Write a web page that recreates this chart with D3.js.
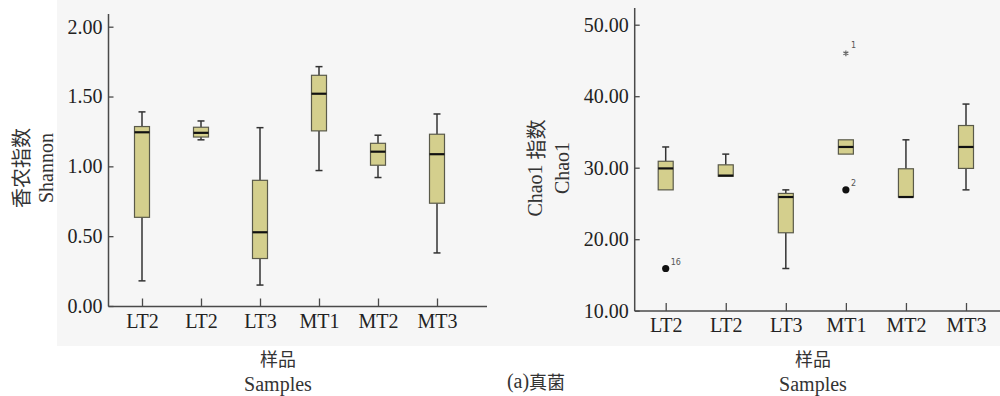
<!DOCTYPE html>
<html><head><meta charset="utf-8">
<script src="https://cdn.jsdelivr.net/npm/d3@7/dist/d3.min.js"></script>
<style>
html,body{margin:0;padding:0;background:#fff;}
svg{display:block;}
.serif{font-family:"Liberation Serif","Times New Roman","DejaVu Serif",serif;}
.cjk{font-family:"Noto Sans CJK SC","Noto Sans CJK JP",sans-serif;}
</style></head>
<body><svg id="c" width="1000" height="396"></svg>
<script>
// ---- data ----
const categories = ["LT2","LT2","LT3","MT1","MT2","MT3"];
// Shannon (left panel)
const shMin = [0.18, 1.19, 0.15, 0.97, 0.92, 0.38];
const shQ1  = [0.635, 1.21, 0.34, 1.254, 1.008, 0.736];
const shMed = [1.244, 1.24, 0.528, 1.52, 1.105, 1.087];
const shQ3  = [1.285, 1.28, 0.90, 1.652, 1.165, 1.23];
const shMax = [1.39, 1.325, 1.277, 1.714, 1.223, 1.375];
const shTicks = [0, 0.5, 1.0, 1.5, 2.0];
// Chao1 (right panel)
const chMin = [26.9, 28.8, 15.9, 31.9, 25.9, 26.9];
const chQ1  = [26.9, 28.8, 20.9, 31.9, 25.9, 29.9];
const chMed = [29.9, 28.9, 25.9, 32.9, 25.9, 32.9];
const chQ3  = [30.9, 30.4, 26.4, 33.9, 29.85, 35.9];
const chMax = [32.9, 31.9, 26.9, 33.9, 33.9, 38.9];
const chTicks = [10, 20, 30, 40, 50];
// outliers: category index, value, type, label
const chOutIdx   = [0, 3, 3];
const chOutVal   = [15.9, 26.9, 46.0];
const chOutType  = ["circle", "circle", "star"];
const chOutLabel = ["16", "2", "1"];

const svg = d3.select("#c");
const AX = "#4a4a4a";

// background panel
svg.append("rect").attr("x",57).attr("y",0).attr("width",943).attr("height",346).attr("fill","#f6f6f6");

function panel(cfg){
  const g = svg.append("g");
  const idx = d3.range(categories.length);
  const x = d3.scalePoint().domain(idx).range(cfg.xr);
  const y = d3.scaleLinear().domain(cfg.yd).range(cfg.yr);

  g.append("line").attr("x1",cfg.ax).attr("x2",cfg.ax).attr("y1",cfg.axTop).attr("y2",cfg.ay)
    .attr("stroke",AX).attr("stroke-width",1.5);
  g.append("line").attr("x1",cfg.ax).attr("x2",cfg.axRight).attr("y1",cfg.ay).attr("y2",cfg.ay)
    .attr("stroke",AX).attr("stroke-width",1.5);

  const yA = g.append("g").attr("transform",`translate(${cfg.ax},0)`)
    .call(d3.axisLeft(y).tickValues(cfg.ticks).tickFormat(d3.format(".2f")).tickSizeInner(-5).tickSizeOuter(0).tickPadding(6));
  yA.attr("font-family",null).attr("font-size",null);
  yA.select(".domain").remove();
  yA.selectAll(".tick line").attr("stroke",AX).attr("stroke-width",1.3);
  yA.selectAll("text").attr("class","serif").style("font-size","20px").attr("fill","#222");

  const xA = g.append("g").attr("transform",`translate(0,${cfg.ay})`)
    .call(d3.axisBottom(x).tickFormat(i=>categories[i]).tickSizeInner(-8).tickSizeOuter(0).tickPadding(7));
  xA.attr("font-family",null).attr("font-size",null);
  xA.select(".domain").remove();
  xA.selectAll(".tick line").attr("stroke",AX).attr("stroke-width",1.3);
  xA.selectAll("text").attr("class","serif").style("font-size","20px").attr("fill","#222");

  const bw = 15, cw = 7;
  idx.forEach(i=>{
    const cx = x(i);
    const bg = g.append("g");
    if (cfg.max[i] > cfg.q3[i]) {
      bg.append("line").attr("x1",cx).attr("x2",cx).attr("y1",y(cfg.q3[i])).attr("y2",y(cfg.max[i])).attr("stroke","#333").attr("stroke-width",1.5);
      bg.append("line").attr("x1",cx-cw/2).attr("x2",cx+cw/2).attr("y1",y(cfg.max[i])).attr("y2",y(cfg.max[i])).attr("stroke","#333").attr("stroke-width",1.5);
    }
    if (cfg.min[i] < cfg.q1[i]) {
      bg.append("line").attr("x1",cx).attr("x2",cx).attr("y1",y(cfg.q1[i])).attr("y2",y(cfg.min[i])).attr("stroke","#333").attr("stroke-width",1.5);
      bg.append("line").attr("x1",cx-cw/2).attr("x2",cx+cw/2).attr("y1",y(cfg.min[i])).attr("y2",y(cfg.min[i])).attr("stroke","#333").attr("stroke-width",1.5);
    }
    bg.append("rect").attr("x",cx-bw/2).attr("width",bw)
      .attr("y",y(cfg.q3[i])).attr("height",Math.max(1,y(cfg.q1[i])-y(cfg.q3[i])))
      .attr("fill","#d4cf8d").attr("stroke","#5a5a4a").attr("stroke-width",1.2);
    bg.append("line").attr("x1",cx-bw/2).attr("x2",cx+bw/2).attr("y1",y(cfg.med[i])).attr("y2",y(cfg.med[i]))
      .attr("stroke","#111").attr("stroke-width",2.2);
  });

  if (cfg.outIdx){
    cfg.outIdx.forEach((ci,k)=>{
      const px = x(ci), py = y(cfg.outVal[k]);
      if (cfg.outType[k]==="circle"){
        g.append("circle").attr("cx",px).attr("cy",py).attr("r",3.6).attr("fill","#111");
        g.append("text").attr("x",px+5).attr("y",py-4).text(cfg.outLabel[k])
          .style("font-family","'DejaVu Sans',sans-serif").style("font-size","8px").attr("fill","#555");
      } else {
        g.append("path").attr("d",d3.symbol(d3.symbolAsterisk,22)()).attr("transform",`translate(${px},${py})`)
          .attr("stroke","#666").attr("stroke-width",1.2).attr("fill","none");
        g.append("text").attr("x",px+5).attr("y",py-5).text(cfg.outLabel[k])
          .style("font-family","'DejaVu Sans',sans-serif").style("font-size","8px").attr("fill","#555");
      }
    });
  }

  // y labels (rotated)
  g.append("text").attr("transform",`translate(${cfg.yl1x},${cfg.ylY}) rotate(-90)`)
    .attr("text-anchor","middle").attr("dominant-baseline","central")
    .style("font-size","20px").attr("fill","#333").attr("class","serif")
    .call(t=>{
      cfg.yl1.forEach(p=>t.append("tspan").attr("class",p[1]?"cjk":"serif").text(p[0]));
    });
  g.append("text").attr("transform",`translate(${cfg.yl2x},${cfg.ylY}) rotate(-90)`)
    .attr("text-anchor","middle").attr("dominant-baseline","central")
    .style("font-size","20px").attr("fill","#333").attr("class","serif").text(cfg.yl2);

  // x labels
  g.append("text").attr("x",cfg.xlX).attr("y",358).attr("text-anchor","middle").attr("dominant-baseline","central")
    .attr("class","cjk").style("font-size","18px").attr("fill","#333").text("样品");
  g.append("text").attr("x",cfg.xlX).attr("y",391).attr("text-anchor","middle")
    .attr("class","serif").style("font-size","20px").attr("fill","#333").text("Samples");
}

panel({
  xr:[142,437], yd:[0,2], yr:[306,26.7], ax:108.5, ay:306.5, axTop:14, axRight:487,
  ticks:shTicks, min:shMin, q1:shQ1, med:shMed, q3:shQ3, max:shMax,
  yl1:[["香农指数",true]], yl2:"Shannon", yl1x:20, yl2x:46, ylY:168, xlX:278
});
panel({
  xr:[665.7,966], yd:[10,50], yr:[310.7,24.7], ax:634.7, ay:311, axTop:8, axRight:1000,
  ticks:chTicks, min:chMin, q1:chQ1, med:chMed, q3:chQ3, max:chMax,
  outIdx:chOutIdx, outVal:chOutVal, outType:chOutType, outLabel:chOutLabel,
  yl1:[["Chao1 ",false],["指数",true]], yl2:"Chao1", yl1x:535, yl2x:562, ylY:168, xlX:813
});

// caption
svg.append("text").attr("x",536).attr("y",381).attr("text-anchor","middle").attr("dominant-baseline","central")
  .style("font-size","18px").attr("fill","#333")
  .call(t=>{
    t.append("tspan").attr("class","serif").style("font-size","20px").text("(a)");
    t.append("tspan").attr("class","cjk").text("真菌");
  });
</script></body></html>
